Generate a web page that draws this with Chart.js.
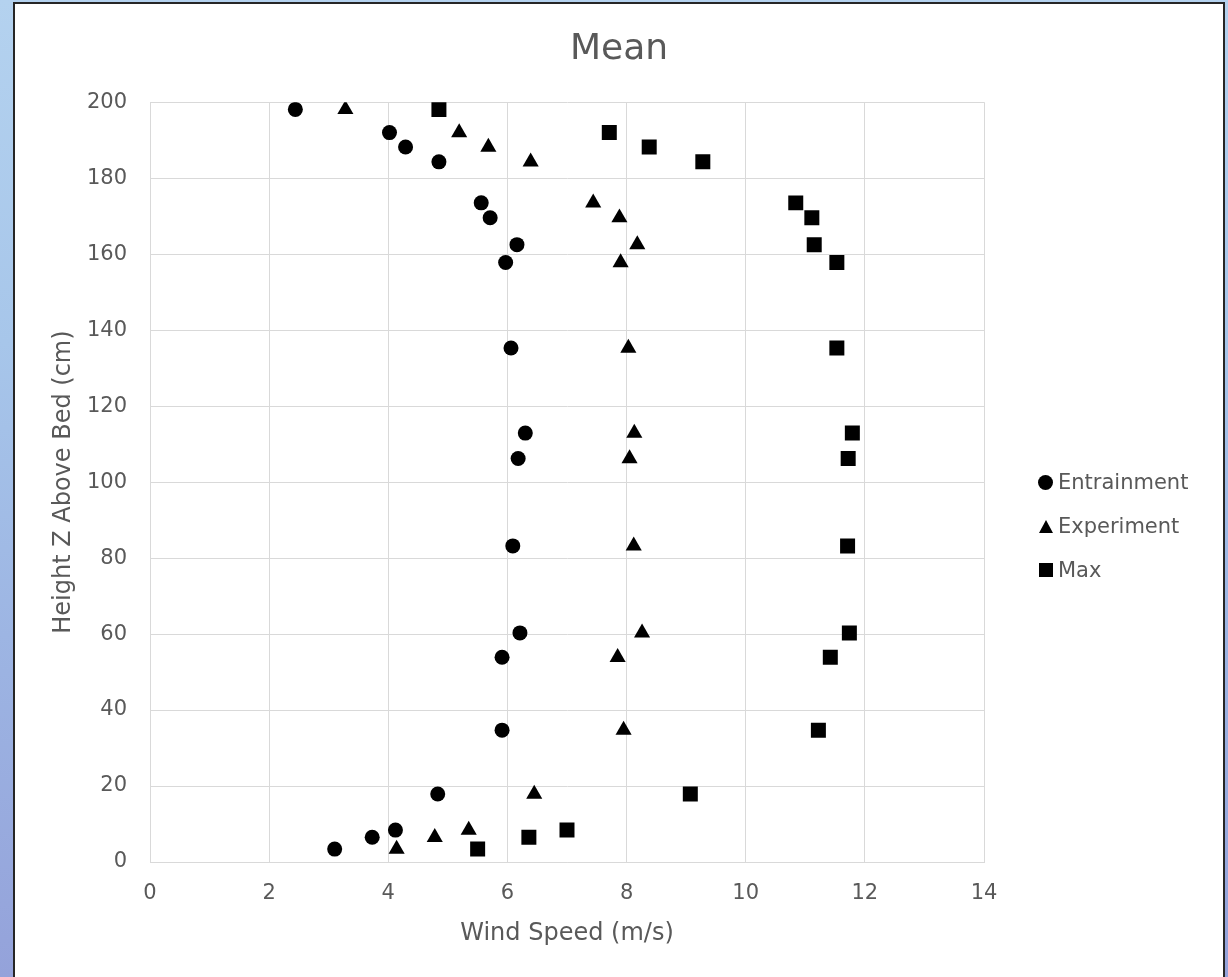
<!DOCTYPE html>
<html>
<head>
<meta charset="utf-8">
<title>Mean</title>
<script src="https://cdn.jsdelivr.net/npm/chart.js@4.4.0/dist/chart.umd.min.js"></script>
<style>
  html, body { margin: 0; padding: 0; width: 1228px; height: 977px; overflow: hidden; }
  body {
    position: relative;
    background: linear-gradient(180deg, #b4d2ef 0%, #a7c6ea 35%, #9db5e3 65%, #94a2da 100%);
    font-family: "DejaVu Sans", sans-serif;
  }
  #card {
    position: absolute; left: 13px; top: 2px;
    width: 1208px; height: 1046px;
    background: #ffffff; border: 2px solid #262626;
  }
  #chart { position: absolute; left: 0; top: 0; }
  #legend { position: absolute; left: 1038px; top: 460px; }
  .item { height: 44px; display: flex; align-items: center; color: #595959; font-size: 21px; }
  .mk { width: 15px; height: 15px; margin-right: 5px; flex: none; display: flex; align-items: center; justify-content: center; }
  .mk.circle span { width: 15px; height: 15px; border-radius: 50%; background: #000; }
  .mk.rect span { width: 14px; height: 14px; background: #000; }
  .mk.triangle span { width: 0; height: 0; border-left: 7.5px solid transparent; border-right: 7.5px solid transparent; border-bottom: 13px solid #000; }
</style>
</head>
<body>
<div id="card"></div>
<canvas id="chart" width="1228" height="1050"></canvas>
<div id="legend"></div>
<script>
// Measurement heights above the bed (cm), shared by all three profiles
const heightAboveBed = [198.1, 192.0, 188.2, 184.3, 173.5, 169.6, 162.5, 157.8, 135.3, 112.9,
                        106.2, 83.2, 60.3, 53.9, 34.7, 17.9, 8.4, 6.5, 3.4];

// Mean wind speed (m/s) at each height
const speedEntrainment = [2.44, 4.02, 4.29, 4.85, 5.56, 5.71, 6.16, 5.97, 6.06, 6.30,
                          6.18, 6.09, 6.21, 5.91, 5.91, 4.83, 4.12, 3.73, 3.10];
const speedExperiment  = [3.28, 5.19, 5.68, 6.39, 7.44, 7.88, 8.18, 7.90, 8.03, 8.13,
                          8.05, 8.12, 8.26, 7.85, 7.95, 6.45, 5.35, 4.78, 4.14];
const speedMax         = [4.85, 7.71, 8.38, 9.28, 10.84, 11.11, 11.15, 11.53, 11.53, 11.79,
                          11.72, 11.71, 11.74, 11.42, 11.22, 9.07, 7.00, 6.36, 5.50];

const seriesNames = ['Entrainment', 'Experiment', 'Max'];

// Axis ticks
const xTickValues = [0, 2, 4, 6, 8, 10, 12, 14];
const yTickValues = [0, 20, 40, 60, 80, 100, 120, 140, 160, 180, 200];

const FONT = '"DejaVu Sans", sans-serif';
const TEXT = '#595959';
const GRID = '#d9d9d9';

const toPoints = speeds => speeds.map((v, i) => ({ x: v, y: heightAboveBed[i] }));

const datasets = [
  { label: seriesNames[0], data: toPoints(speedEntrainment), pointStyle: 'circle',   pointRadius: 7.5 },
  { label: seriesNames[1], data: toPoints(speedExperiment),  pointStyle: 'triangle', pointRadius: 9.3 },
  { label: seriesNames[2], data: toPoints(speedMax),         pointStyle: 'rect',     pointRadius: 10.6 }
].map(d => Object.assign(d, {
  backgroundColor: '#000', borderColor: '#000', borderWidth: 0,
  pointHoverRadius: d.pointRadius, showLine: false
}));

const ticksFrom = values => scale => { scale.ticks = values.map(v => ({ value: v })); };

const chart = new Chart(document.getElementById('chart'), {
  type: 'scatter',
  data: { datasets },
  options: {
    responsive: false,
    animation: false,
    devicePixelRatio: 1,
    layout: { padding: { left: 10, right: 0, top: 0, bottom: 0 } },
    plugins: {
      legend: { display: false },
      tooltip: { enabled: false },
      title: {
        display: true, text: 'Mean', color: TEXT,
        font: { family: FONT, size: 36, weight: 'normal' },
        padding: { top: 28, bottom: 31 }
      }
    },
    scales: {
      x: {
        type: 'linear', min: xTickValues[0], max: xTickValues[xTickValues.length - 1],
        afterBuildTicks: ticksFrom(xTickValues),
        afterFit: s => { s.height = 188; },
        grid: { color: GRID, lineWidth: 1, drawTicks: false },
        border: { color: GRID },
        ticks: { color: TEXT, font: { family: FONT, size: 21 }, padding: 19 },
        title: { display: true, text: 'Wind Speed (m/s)', color: TEXT,
                 font: { family: FONT, size: 24 }, padding: { top: 0, bottom: 102 } }
      },
      y: {
        type: 'linear', min: yTickValues[0], max: yTickValues[yTickValues.length - 1],
        afterBuildTicks: ticksFrom(yTickValues),
        afterFit: s => { s.width = 140; },
        grid: { color: GRID, lineWidth: 1, drawTicks: false },
        border: { color: GRID },
        ticks: { color: TEXT, font: { family: FONT, size: 21 }, padding: 23 },
        title: { display: true, text: 'Height Z Above Bed (cm)', color: TEXT,
                 font: { family: FONT, size: 24 }, padding: { top: 39, bottom: 0 } }
      },
      // blank band on the right that holds the legend column
      legendBand: {
        type: 'linear', position: 'right', min: 0, max: 1,
        afterFit: s => { s.width = 244; },
        grid: { display: false, drawOnChartArea: false },
        border: { display: false },
        ticks: { display: false }
      }
    }
  }
});

// Legend built from the chart's datasets
const legendEl = document.getElementById('legend');
chart.data.datasets.forEach(ds => {
  const row = document.createElement('div');
  row.className = 'item';
  const mk = document.createElement('div');
  mk.className = 'mk ' + ds.pointStyle;
  mk.appendChild(document.createElement('span'));
  const label = document.createElement('span');
  label.textContent = ds.label;
  row.appendChild(mk);
  row.appendChild(label);
  legendEl.appendChild(row);
});
</script>
</body>
</html>
